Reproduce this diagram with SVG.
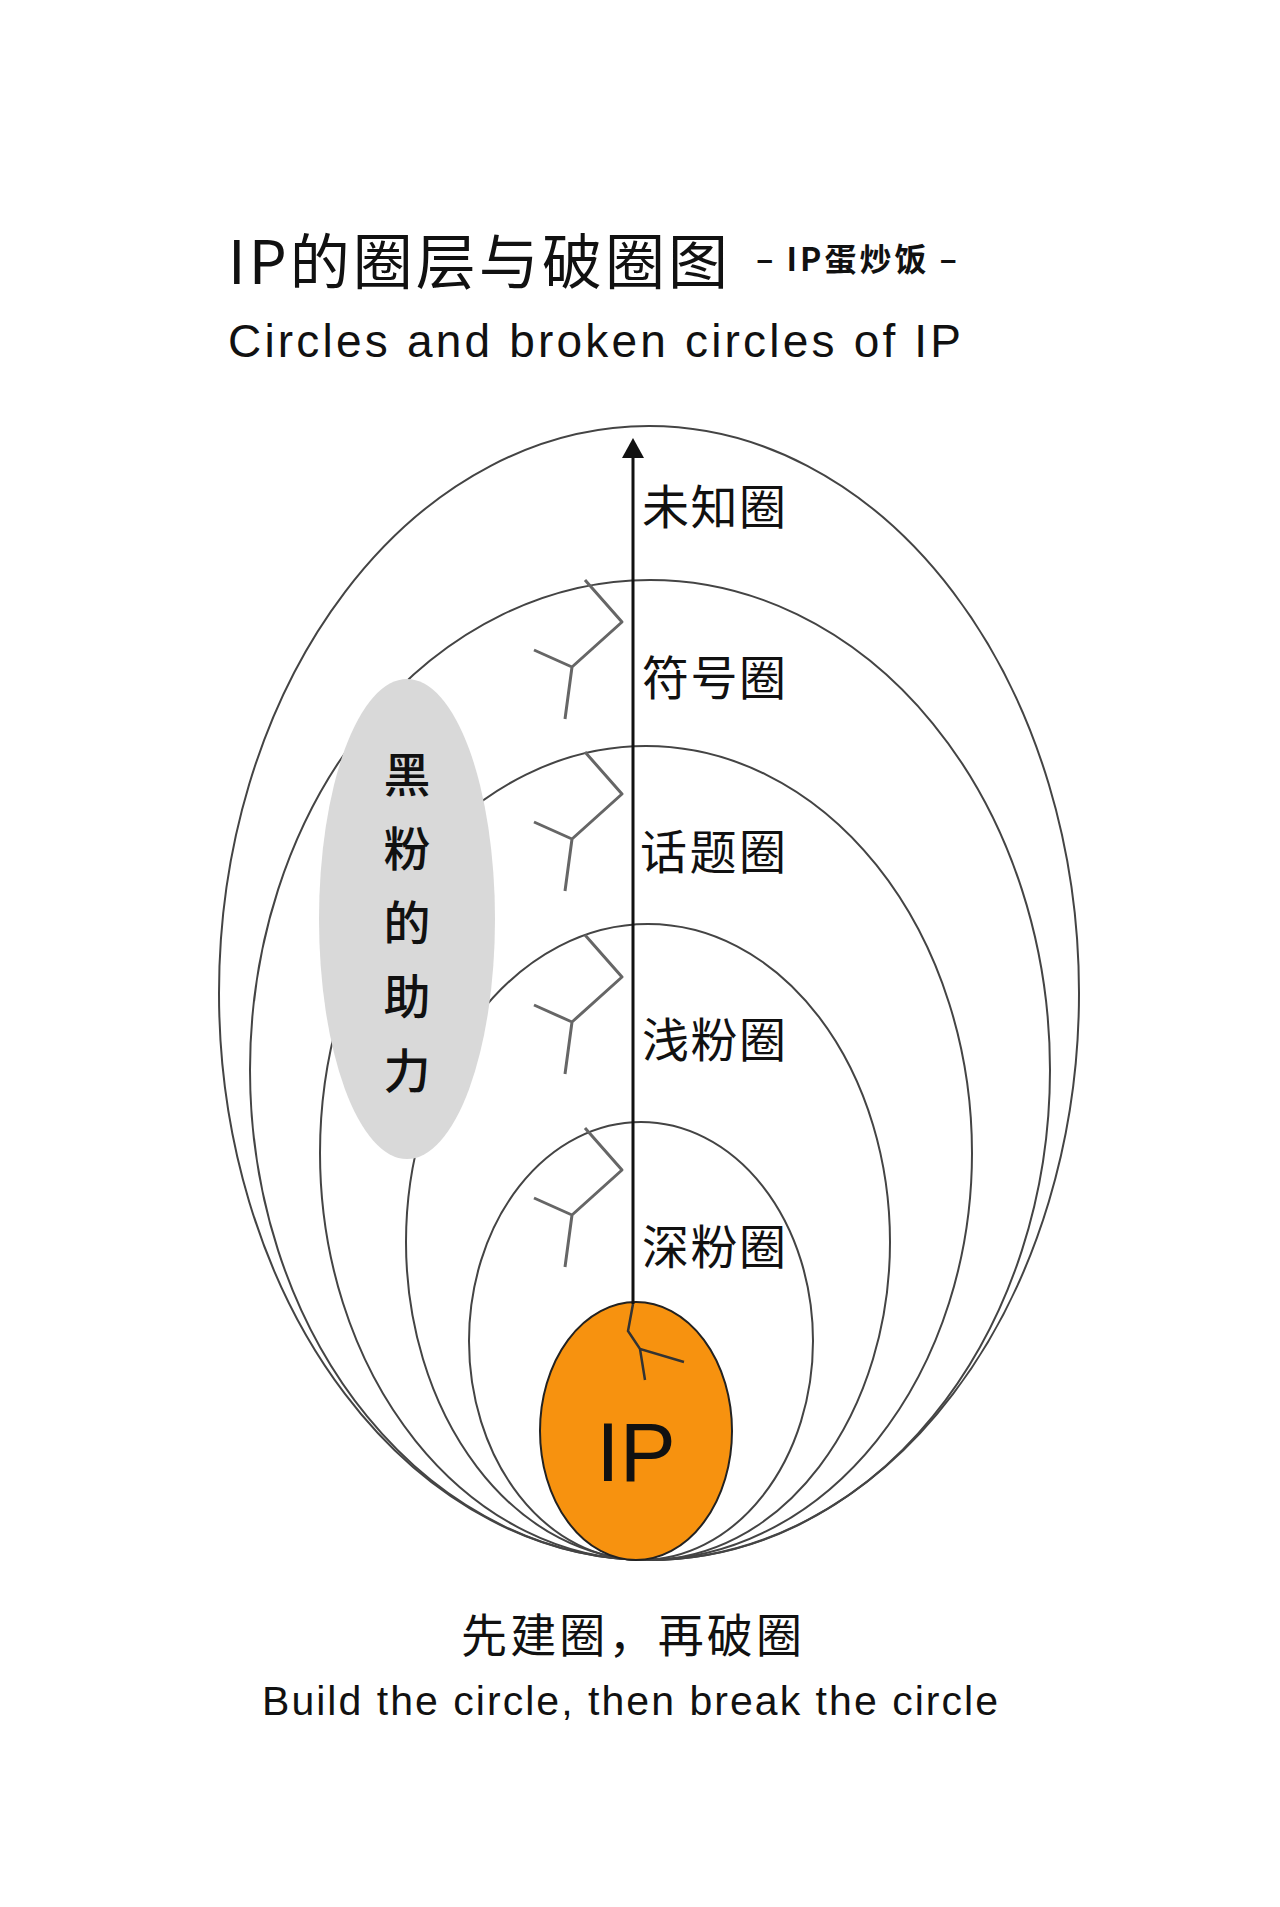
<svg xmlns="http://www.w3.org/2000/svg" xmlns:xlink="http://www.w3.org/1999/xlink" width="1280" height="1907" viewBox="0 0 1280 1907">
<style>
.ring{fill:none;stroke:#444;stroke-width:2}
.lbl{font-family:"Noto Sans CJK SC","Noto Sans",sans-serif;font-size:47px;fill:#111}
.crack{fill:none;stroke:#666;stroke-width:3;stroke-linejoin:round}
</style>
<defs>
<path id="ck" class="crack" d="M0,0 L37,42 L-13,87 M-51,70 L-13,87 L-20,139"/>
</defs>
<rect width="1280" height="1907" fill="#fff"/>
<g id="title">
<text x="228" y="284" font-family="'Noto Sans CJK SC',sans-serif" font-size="60" fill="#111" textLength="500">IP的圈层与破圈图</text>
<text x="756" y="271" font-family="'Noto Sans CJK SC',sans-serif" font-size="32" font-weight="bold" fill="#111" textLength="201">– IP蛋炒饭 –</text>
<text x="228" y="357" font-family="'Liberation Sans',Arial,sans-serif" font-size="46" fill="#111" textLength="733">Circles and broken circles of IP</text>
</g>
<g id="rings">
<ellipse id="r1" class="ring" cx="649" cy="993" rx="430" ry="567"/>
<ellipse id="r2" class="ring" cx="650" cy="1070" rx="400" ry="490"/>
<ellipse id="r3" class="ring" cx="646" cy="1153" rx="326" ry="407"/>
<ellipse id="r4" class="ring" cx="648" cy="1242" rx="242" ry="318"/>
<ellipse id="r5" class="ring" cx="641" cy="1341" rx="172" ry="219"/>
</g>
<g id="cracks">
<use xlink:href="#ck" x="585" y="580"/>
<use xlink:href="#ck" x="585" y="752"/>
<use xlink:href="#ck" x="585" y="935"/>
<use xlink:href="#ck" x="585" y="1128"/>
</g>
<g id="blackfans">
<ellipse cx="407" cy="919" rx="88" ry="240" fill="#d9d9d9"/>
<text class="lbl" x="407" y="792" text-anchor="middle" font-size="54" font-weight="500">黑</text>
<text class="lbl" x="407" y="866" text-anchor="middle" font-size="54" font-weight="500">粉</text>
<text class="lbl" x="407" y="940" text-anchor="middle" font-size="54" font-weight="500">的</text>
<text class="lbl" x="407" y="1014" text-anchor="middle" font-size="54" font-weight="500">助</text>
<text class="lbl" x="407" y="1088" text-anchor="middle" font-size="54" font-weight="500">力</text>
</g>
<g id="ip">
<ellipse cx="636" cy="1431" rx="96" ry="129" fill="#f7920f" stroke="#222" stroke-width="2"/>
<path d="M633,1304 L628,1331 L640,1349 L684,1362 M640,1349 L645,1380" fill="none" stroke="#333" stroke-width="2.5"/>
<text x="636" y="1481" text-anchor="middle" font-family="'Liberation Sans',Arial,sans-serif" font-size="84" fill="#111">IP</text>
</g>
<g id="connectors">
<line x1="633" y1="1304" x2="633" y2="455" stroke="#111" stroke-width="3"/>
<polygon points="633,438 622,458 644,458" fill="#111"/>
</g>
<g id="labels">
<text class="lbl" x="642" y="524" textLength="144">未知圈</text>
<text class="lbl" x="642" y="695" textLength="144">符号圈</text>
<text class="lbl" x="640" y="869" textLength="146">话题圈</text>
<text class="lbl" x="642" y="1057" textLength="144">浅粉圈</text>
<text class="lbl" x="642" y="1264" textLength="144">深粉圈</text>
</g>
<g id="footer">
<text x="461" y="1652" font-family="'Noto Sans CJK SC',sans-serif" font-size="46" fill="#111" textLength="341">先建圈，再破圈</text>
<text x="630" y="1715" text-anchor="middle" font-family="'Liberation Sans',Arial,sans-serif" font-size="41" fill="#111" textLength="736">Build the circle, then break the circle</text>
</g>
</svg>
